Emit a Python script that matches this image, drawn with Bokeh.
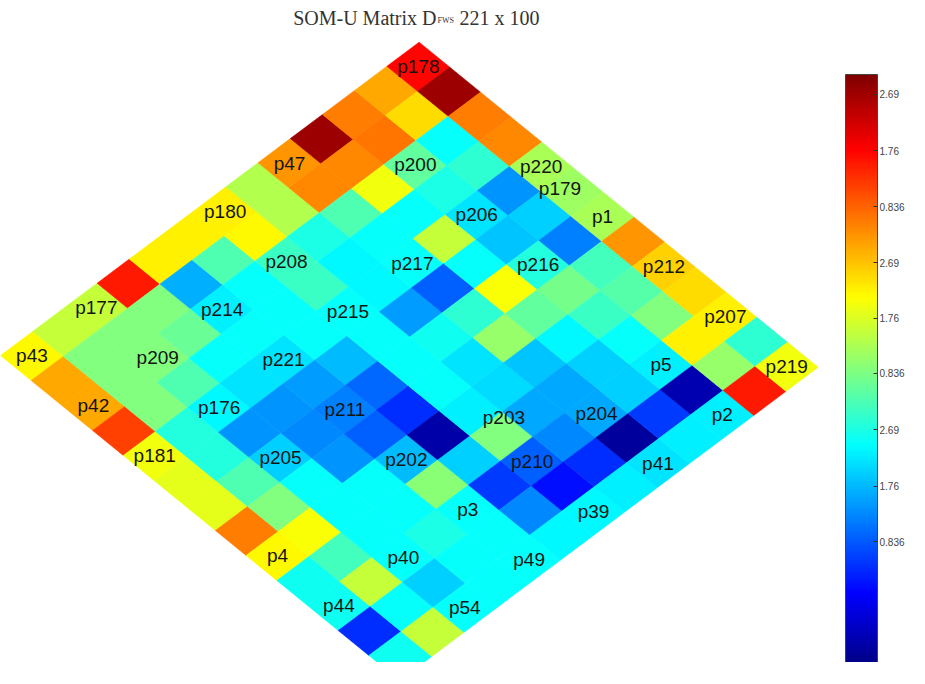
import numpy as np
from bokeh.plotting import figure
from bokeh.models import (ColumnDataSource, LinearColorMapper, ColorBar, FixedTicker,
                          Label, Range1d, CustomJSTickFormatter, AllLabels)
from bokeh.core.properties import value
from bokeh.embed import file_html
from bokeh.resources import INLINE

# ---------------- data ----------------
# U-matrix (13 x 13), colour position on the colour scale (0 = dark blue ... 1 = dark red)
# row_jK holds the cells with v-index K; list index is the u-index i
# (i = 0 on the lower-left edge, i = 12 on the upper-right edge)
row_j0 = [0.63, 0.57, 0.57, 0.85, 0.64, 0.64, 0.64, 0.55, 0.73, 0.97, 0.75, 0.71, 0.87]
row_j1 = [0.71, 0.50, 0.50, 0.50, 0.30, 0.45, 0.63, 0.55, 0.74, 0.74, 0.76, 0.66, 0.97]
row_j2 = [0.71, 0.50, 0.50, 0.48, 0.36, 0.38, 0.43, 0.40, 0.45, 0.61, 0.47, 0.38, 0.75]
row_j3 = [0.81, 0.50, 0.45, 0.38, 0.38, 0.38, 0.43, 0.37, 0.38, 0.38, 0.40, 0.42, 0.74]
row_j4 = [0.61, 0.41, 0.37, 0.35, 0.35, 0.38, 0.38, 0.37, 0.38, 0.57, 0.35, 0.27, 0.54]
row_j5 = [0.60, 0.41, 0.27, 0.27, 0.28, 0.31, 0.38, 0.28, 0.22, 0.38, 0.32, 0.33, 0.53]
row_j6 = [0.60, 0.45, 0.33, 0.26, 0.25, 0.23, 0.38, 0.39, 0.42, 0.62, 0.41, 0.25, 0.54]
row_j7 = [0.75, 0.50, 0.38, 0.27, 0.22, 0.17, 0.38, 0.35, 0.52, 0.47, 0.49, 0.44, 0.73]
row_j8 = [0.63, 0.62, 0.38, 0.38, 0.31, 0.04, 0.36, 0.34, 0.32, 0.37, 0.43, 0.46, 0.67]
row_j9 = [0.39, 0.44, 0.38, 0.38, 0.51, 0.33, 0.50, 0.29, 0.29, 0.33, 0.38, 0.50, 0.66]
row_j10 = [0.39, 0.57, 0.38, 0.40, 0.38, 0.18, 0.22, 0.26, 0.29, 0.33, 0.36, 0.64, 0.64]
row_j11 = [0.17, 0.38, 0.33, 0.38, 0.38, 0.26, 0.14, 0.17, 0.03, 0.18, 0.05, 0.52, 0.42]
row_j12 = [0.39, 0.57, 0.38, 0.38, 0.38, 0.37, 0.37, 0.36, 0.35, 0.36, 0.36, 0.85, 0.61]

# hit labels: name and map-unit position (u-index, v-index)
label_names = ["p178", "p47", "p200", "p220", "p179", "p1", "p180", "p206", "p208",
               "p217", "p216", "p212", "p177", "p214", "p215", "p207", "p43", "p209",
               "p221", "p5", "p219", "p42", "p176", "p211", "p203", "p204", "p2",
               "p181", "p205", "p202", "p210", "p41", "p3", "p39", "p4", "p40",
               "p49", "p44", "p54"]
label_i = [12, 8, 10, 12, 11.87, 12, 6, 10, 6, 8, 10, 12, 2, 4, 6, 12, 0, 2,
           4, 10, 12, 0, 2, 4, 6.42, 8, 10, 0, 2, 4, 6, 8, 4, 6, 0, 2, 4, 0, 2]
label_j = [0, 0, 2, 4, 4.75, 6, 0, 4, 2, 4, 6, 8, 0, 2, 4, 10, 0, 2,
           4, 10, 12, 2, 4, 6, 8.64, 10, 12, 4, 6, 8, 10, 12, 10, 12, 8, 10, 12, 10, 12]

# colour bar ticks (position on colour scale) and their printed labels
cbar_ticks = [0.967, 0.872, 0.777, 0.683, 0.590, 0.497, 0.402, 0.307, 0.213]
cbar_labels = ["2.69", "1.76", "0.836", "2.69", "1.76", "0.836", "2.69", "1.76", "0.836"]

# ---------------- geometry / style ----------------
UX, UY = 32.2, 24.1     # screen step of one cell along u (towards upper right)
VX, VY = 30.7, -25.0    # screen step of one cell along v (towards lower right)


def to_xy(u, v):
    u = np.asarray(u, dtype=float)
    v = np.asarray(v, dtype=float)
    return UX * u + VX * v, UY * u + VY * v


def jet(n):
    x = np.linspace(0, 1, n)
    r = np.clip(1.5 - np.abs(4 * x - 3), 0, 1)
    g = np.clip(1.5 - np.abs(4 * x - 2), 0, 1)
    b = np.clip(1.5 - np.abs(4 * x - 1), 0, 1)
    return ["#%02x%02x%02x" % (int(round(rr * 255)), int(round(gg * 255)), int(round(bb * 255)))
            for rr, gg, bb in zip(r, g, b)]


palette = jet(256)
mapper = LinearColorMapper(palette=palette, low=0.0, high=1.0)

rows = [row_j0, row_j1, row_j2, row_j3, row_j4, row_j5, row_j6,
        row_j7, row_j8, row_j9, row_j10, row_j11, row_j12]

xs, ys, vals = [], [], []
for j, row in enumerate(rows):
    for i, val in enumerate(row):
        cx, cy = to_xy([i, i + 1, i + 1, i], [j, j, j + 1, j + 1])
        xs.append(list(cx))
        ys.append(list(cy))
        vals.append(val)

cells = ColumnDataSource(dict(xs=xs, ys=ys, val=vals))

W, H = 909, 662
p = figure(width=W, height=H, output_backend="svg", toolbar_location=None,
           x_range=Range1d(0, W), y_range=Range1d(355 - H, 355),
           x_axis_type=None, y_axis_type=None, title=None, min_border=0)
p.outline_line_color = None
p.background_fill_color = "white"
p.border_fill_color = "white"

p.patches("xs", "ys", source=cells,
          fill_color={"field": "val", "transform": mapper},
          line_color={"field": "val", "transform": mapper}, line_width=0.6)

lx, ly = to_xy(np.array(label_i) + 0.5, np.array(label_j) + 0.5)
labels = ColumnDataSource(dict(x=lx, y=ly, t=label_names))
p.text("x", "y", text="t", source=labels, text_align="center", text_baseline="middle",
       text_font=value("Liberation Sans"), text_font_size="19px", text_color="#141414")

cb_formatter = CustomJSTickFormatter(args=dict(tv=cbar_ticks, tl=cbar_labels), code="""
    let best = 0, bd = 1e9;
    for (let k = 0; k < tv.length; k++) {
        const d = Math.abs(tv[k] - tick);
        if (d < bd) { bd = d; best = k; }
    }
    return tl[best];
""")

cb = ColorBar(color_mapper=mapper, ticker=FixedTicker(ticks=cbar_ticks),
              formatter=cb_formatter, major_label_policy=AllLabels(),
              width=32, height=594, location=(845, -6), padding=0, margin=0,
              bar_line_color="#444444", bar_line_width=1,
              major_tick_line_color="#333333", major_tick_in=4, major_tick_out=0,
              minor_tick_line_color=None,
              major_label_text_font="Liberation Sans", major_label_text_font_size="10px",
              major_label_text_color="#444444", label_standoff=2,
              background_fill_alpha=0, border_line_color=None)
p.add_layout(cb)

# title with subscript
title_font = "Liberation Serif"
p.add_layout(Label(x=436, y=H - 17, x_units="screen", y_units="screen",
                   text="SOM-U Matrix D", text_align="right", text_baseline="alphabetic",
                   text_font=title_font, text_font_size="20px", text_color="#333333"))
p.add_layout(Label(x=437, y=H - 20, x_units="screen", y_units="screen",
                   text="FWS", text_align="left", text_baseline="alphabetic",
                   text_font=title_font, text_font_size="8px", text_color="#333333"))
p.add_layout(Label(x=459, y=H - 17, x_units="screen", y_units="screen",
                   text="221 x 100", text_align="left", text_baseline="alphabetic",
                   text_font=title_font, text_font_size="20px", text_color="#333333"))

open("out.html", "w").write(file_html(p, INLINE))
